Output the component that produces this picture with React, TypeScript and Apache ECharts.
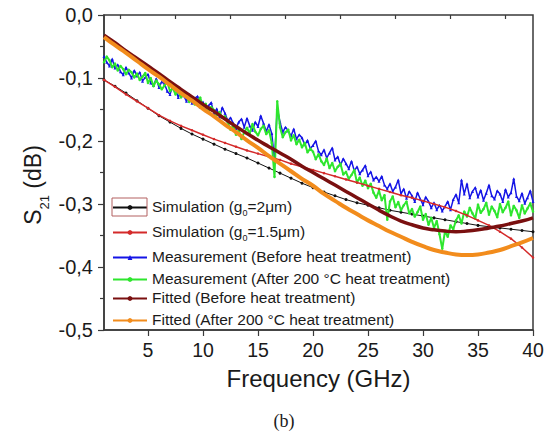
import React, { useEffect, useRef } from 'react';
import * as echarts from 'echarts';

const FONT = "'Liberation Sans', Arial, sans-serif";

// Tick values on the frequency axis
const xMajorTicks = [5, 10, 15, 20, 25, 30, 35, 40];
const xMinorTicks = [2.5, 7.5, 12.5, 17.5, 22.5, 27.5, 32.5, 37.5];

// Simulation / fit frequency grid (GHz)
const simFreq = [1, 2, 3, 4, 5, 6, 7, 8, 9, 10, 11, 12, 13, 14, 15, 16, 17, 18, 19, 20,
  21, 22, 23, 24, 25, 26, 27, 28, 29, 30, 31, 32, 33, 34, 35, 36, 37, 38, 39, 40];

// Simulation (g0 = 2 um)
const sim2um = [-0.103, -0.113, -0.124, -0.136, -0.148, -0.160, -0.170, -0.180, -0.189, -0.197,
  -0.205, -0.213, -0.220, -0.227, -0.235, -0.243, -0.251, -0.259, -0.267, -0.274,
  -0.281, -0.287, -0.293, -0.298, -0.302, -0.306, -0.310, -0.313, -0.316, -0.319,
  -0.322, -0.325, -0.328, -0.331, -0.334, -0.336, -0.338, -0.340, -0.342, -0.344];

// Simulation (g0 = 1.5 um)
const sim15um = [-0.103, -0.114, -0.126, -0.137, -0.148, -0.159, -0.168, -0.176, -0.183, -0.190,
  -0.197, -0.203, -0.209, -0.215, -0.220, -0.225, -0.230, -0.236, -0.241, -0.246,
  -0.251, -0.256, -0.261, -0.266, -0.271, -0.276, -0.281, -0.286, -0.290, -0.295,
  -0.300, -0.305, -0.311, -0.318, -0.326, -0.334, -0.344, -0.355, -0.369, -0.385];

// Fitted (before heat treatment)
const fitBefore = [-0.032, -0.044, -0.057, -0.069, -0.081, -0.093, -0.106, -0.118, -0.130, -0.142,
  -0.153, -0.165, -0.177, -0.188, -0.199, -0.209, -0.219, -0.229, -0.240, -0.250,
  -0.260, -0.270, -0.280, -0.290, -0.300, -0.310, -0.319, -0.327, -0.333, -0.338,
  -0.341, -0.343, -0.344, -0.343, -0.341, -0.338, -0.335, -0.331, -0.327, -0.322];

// Fitted (after 200 C heat treatment)
const fitAfter = [-0.035, -0.048, -0.060, -0.073, -0.086, -0.098, -0.111, -0.124, -0.136, -0.149,
  -0.161, -0.174, -0.186, -0.199, -0.211, -0.224, -0.236, -0.248, -0.260, -0.271,
  -0.284, -0.295, -0.306, -0.316, -0.326, -0.335, -0.344, -0.352, -0.360, -0.367,
  -0.373, -0.377, -0.380, -0.381, -0.380, -0.377, -0.373, -0.367, -0.361, -0.354];

// Measurement frequency grid (GHz)
const measFreq = [1, 1.25, 1.5, 1.75, 2, 2.25, 2.5, 2.75, 3, 3.25, 3.5, 3.75, 4, 4.25, 4.5, 4.75,
  5, 5.25, 5.5, 5.75, 6, 6.25, 6.5, 6.75, 7, 7.25, 7.5, 7.75, 8, 8.25, 8.5, 8.75,
  9, 9.25, 9.5, 9.75, 10, 10.25, 10.5, 10.75, 11, 11.25, 11.5, 11.75, 12, 12.25, 12.5, 12.75,
  13, 13.25, 13.5, 13.75, 14, 14.25, 14.5, 14.75, 15, 15.25, 15.5, 15.75, 16, 16.25, 16.5, 16.75,
  17, 17.25, 17.5, 17.75, 18, 18.25, 18.5, 18.75, 19, 19.25, 19.5, 19.75, 20, 20.25, 20.5, 20.75,
  21, 21.25, 21.5, 21.75, 22, 22.25, 22.5, 22.75, 23, 23.25, 23.5, 23.75, 24, 24.25, 24.5, 24.75,
  25, 25.25, 25.5, 25.75, 26, 26.25, 26.5, 26.75, 27, 27.25, 27.5, 27.75, 28, 28.25, 28.5, 28.75,
  29, 29.25, 29.5, 29.75, 30, 30.25, 30.5, 30.75, 31, 31.25, 31.5, 31.75, 32, 32.25, 32.5, 32.75,
  33, 33.25, 33.5, 33.75, 34, 34.25, 34.5, 34.75, 35, 35.25, 35.5, 35.75, 36, 36.25, 36.5, 36.75,
  37, 37.25, 37.5, 37.75, 38, 38.25, 38.5, 38.75, 39, 39.25, 39.5, 39.75, 40];

// Measurement (before heat treatment)
const measBefore = [
  -0.066, -0.075, -0.081, -0.070, -0.084, -0.079, -0.090, -0.095,
  -0.083, -0.092, -0.100, -0.088, -0.097, -0.091, -0.105, -0.099,
  -0.094, -0.108, -0.112, -0.101, -0.115, -0.106, -0.109, -0.121,
  -0.126, -0.113, -0.118, -0.131, -0.119, -0.128, -0.137, -0.126,
  -0.140, -0.132, -0.129, -0.146, -0.138, -0.150, -0.144, -0.139,
  -0.157, -0.149, -0.162, -0.147, -0.156, -0.168, -0.163, -0.172,
  -0.180, -0.170, -0.165, -0.178, -0.164, -0.176, -0.183, -0.170,
  -0.177, -0.160, -0.172, -0.185, -0.174, -0.188, -0.230, -0.148,
  -0.170, -0.186, -0.178, -0.184, -0.192, -0.181, -0.197, -0.190,
  -0.195, -0.206, -0.199, -0.212, -0.207, -0.200, -0.216, -0.222,
  -0.214, -0.227, -0.219, -0.211, -0.230, -0.225, -0.238, -0.228,
  -0.236, -0.244, -0.232, -0.247, -0.241, -0.252, -0.246, -0.239,
  -0.255, -0.249, -0.262, -0.257, -0.264, -0.256, -0.270, -0.276,
  -0.268, -0.280, -0.273, -0.262, -0.284, -0.276, -0.291, -0.280,
  -0.287, -0.296, -0.282, -0.292, -0.301, -0.289, -0.296, -0.306,
  -0.298, -0.309, -0.302, -0.311, -0.304, -0.296, -0.309, -0.293,
  -0.285, -0.298, -0.262, -0.284, -0.268, -0.290, -0.280, -0.274,
  -0.289, -0.278, -0.294, -0.283, -0.270, -0.287, -0.292, -0.279,
  -0.284, -0.296, -0.277, -0.289, -0.282, -0.260, -0.288, -0.295,
  -0.283, -0.299, -0.290, -0.279, -0.296];

// Measurement (after 200 C heat treatment)
const measAfter = [
  -0.075, -0.066, -0.072, -0.083, -0.077, -0.088, -0.081, -0.086,
  -0.094, -0.087, -0.091, -0.099, -0.093, -0.103, -0.098, -0.092,
  -0.108, -0.100, -0.113, -0.104, -0.110, -0.118, -0.112, -0.106,
  -0.121, -0.116, -0.126, -0.120, -0.131, -0.124, -0.129, -0.138,
  -0.133, -0.142, -0.137, -0.131, -0.147, -0.141, -0.153, -0.146,
  -0.151, -0.159, -0.154, -0.163, -0.161, -0.170, -0.182, -0.175,
  -0.190, -0.183, -0.197, -0.186, -0.179, -0.188, -0.173, -0.185,
  -0.191, -0.181, -0.176, -0.189, -0.183, -0.203, -0.257, -0.137,
  -0.178, -0.194, -0.186, -0.182, -0.199, -0.191, -0.205, -0.198,
  -0.210, -0.203, -0.218, -0.212, -0.217, -0.229, -0.221, -0.232,
  -0.238, -0.228, -0.243, -0.235, -0.248, -0.241, -0.236, -0.253,
  -0.249, -0.260, -0.254, -0.246, -0.266, -0.258, -0.271, -0.263,
  -0.275, -0.268, -0.282, -0.290, -0.279, -0.294, -0.286, -0.325,
  -0.296, -0.288, -0.305, -0.297, -0.310, -0.302, -0.296, -0.315,
  -0.308, -0.320, -0.313, -0.304, -0.325, -0.316, -0.333, -0.322,
  -0.338, -0.327, -0.348, -0.371, -0.343, -0.352, -0.334, -0.340,
  -0.326, -0.318, -0.331, -0.312, -0.320, -0.306, -0.315, -0.323,
  -0.301, -0.314, -0.308, -0.298, -0.317, -0.304, -0.311, -0.321,
  -0.300, -0.313, -0.306, -0.296, -0.318, -0.303, -0.310, -0.322,
  -0.302, -0.315, -0.307, -0.299, -0.312];

const seriesNames = [
  'Simulation (g0=2μm)',
  'Simulation (g0=1.5μm)',
  'Measurement (Before heat treatment)',
  'Measurement (After 200 °C heat treatment)',
  'Fitted (Before heat treatment)',
  'Fitted (After 200 °C heat treatment)',
];

const legendRich: Record<string, string> = {
  'Simulation (g0=2μm)': '{n|Simulation (g}{s|0}{n|=2μm)}',
  'Simulation (g0=1.5μm)': '{n|Simulation (g}{s|0}{n|=1.5μm)}',
  'Measurement (Before heat treatment)': '{n|Measurement (Before heat treatment)}',
  'Measurement (After 200 °C heat treatment)': '{n|Measurement (After 200 °C heat treatment)}',
  'Fitted (Before heat treatment)': '{n|Fitted (Before heat treatment)}',
  'Fitted (After 200 °C heat treatment)': '{n|Fitted (After 200 °C heat treatment)}',
};

const legendTops = [198, 223, 248, 270, 289, 311];

const zip = (xs: number[], ys: number[]) => xs.map((x, i) => [x, ys[i]]);

export default function App() {
  const ref = useRef<HTMLDivElement>(null);

  useEffect(() => {
    const chart = echarts.init(ref.current!, null, { renderer: 'svg' });
    const axisColor = '#3a3a3a';
    const textColor = '#1a1a1a';

    const legends = seriesNames.map((name, i) => ({
      data: [name],
      left: 112,
      top: legendTops[i],
      orient: 'vertical',
      itemWidth: 34,
      itemHeight: 6,
      itemGap: 0,
      padding: 0,
      selectedMode: false,
      formatter: (n: string) => legendRich[n],
      textStyle: {
        rich: {
          n: { fontFamily: FONT, fontSize: 15.5, color: textColor, verticalAlign: 'bottom', padding: [0, 0, 3, 0] },
          s: { fontFamily: FONT, fontSize: 9, color: textColor, verticalAlign: 'bottom' },
        },
      },
    }));

    const option: any = {
      animation: false,
      backgroundColor: '#ffffff',
      grid: {
        left: 104, right: 21, top: 15, bottom: 104,
        show: true, borderColor: axisColor, borderWidth: 1.5, backgroundColor: 'transparent',
      },
      xAxis: [
        {
          type: 'value', min: 1, max: 40, position: 'bottom',
          name: 'Frequency (GHz)', nameLocation: 'middle', nameGap: 36,
          nameTextStyle: { fontFamily: FONT, fontSize: 24, color: textColor },
          axisLine: { show: true, onZero: false, lineStyle: { color: axisColor, width: 1.5 } },
          axisTick: { show: true, inside: false, length: 6, customValues: xMajorTicks, lineStyle: { color: axisColor, width: 1.2 } },
          axisLabel: { customValues: xMajorTicks, fontFamily: FONT, fontSize: 19.5, color: textColor, margin: 10 },
          splitLine: { show: false },
        },
        {
          type: 'value', min: 1, max: 40, position: 'bottom',
          axisLine: { show: false },
          axisTick: { show: true, inside: false, length: 4, customValues: xMinorTicks, lineStyle: { color: axisColor, width: 1.2 } },
          axisLabel: { show: false },
          splitLine: { show: false },
        },
      ],
      yAxis: {
        type: 'value', min: -0.5, max: 0, interval: 0.1,
        axisLine: { show: true, onZero: false, lineStyle: { color: axisColor, width: 1.5 } },
        axisTick: { show: true, inside: false, length: 6, lineStyle: { color: axisColor, width: 1.2 } },
        minorTick: { show: true, splitNumber: 2, length: 4, lineStyle: { color: axisColor, width: 1.2 } },
        axisLabel: {
          fontFamily: FONT, fontSize: 20, color: textColor, margin: 11,
          formatter: (v: number) => v.toFixed(1).replace('.', ','),
        },
        splitLine: { show: false },
      },
      legend: legends,
      graphic: [
        {
          type: 'rect', z: 100,
          shape: { x: 112, y: 198, width: 35, height: 18 },
          style: { fill: 'none', stroke: '#b36060', lineWidth: 1 },
        },
        {
          type: 'text', x: 36, y: 185, rotation: Math.PI / 2, z: 100,
          style: {
            text: '{a|S}{b|21}{a| (dB)}',
            align: 'center', verticalAlign: 'middle',
            rich: {
              a: { fontFamily: FONT, fontSize: 23, fill: textColor, verticalAlign: 'bottom', padding: [0, 0, 6, 0] },
              b: { fontFamily: FONT, fontSize: 13, fill: textColor, verticalAlign: 'bottom' },
            },
          },
        },
        {
          type: 'text', x: 284, y: 421, z: 100,
          style: {
            text: '(b)', fontFamily: "'Liberation Serif', 'Times New Roman', serif", fontSize: 18,
            fill: textColor, align: 'center', verticalAlign: 'middle',
          },
        },
      ],
      series: [
        {
          name: seriesNames[0], type: 'line', data: zip(simFreq, sim2um),
          symbol: 'circle', symbolSize: 3, showSymbol: true,
          lineStyle: { color: '#111111', width: 1 }, itemStyle: { color: '#111111' }, z: 2,
        },
        {
          name: seriesNames[2], type: 'line', data: zip(measFreq, measBefore),
          symbol: 'triangle', symbolSize: 3, showSymbol: true,
          lineStyle: { color: '#1414e6', width: 1.5 }, itemStyle: { color: '#1414e6' }, z: 3,
        },
        {
          name: seriesNames[3], type: 'line', data: zip(measFreq, measAfter),
          symbol: 'circle', symbolSize: 2.5, showSymbol: true,
          lineStyle: { color: '#2ee62e', width: 2 }, itemStyle: { color: '#2ee62e' }, z: 4,
        },
        {
          name: seriesNames[1], type: 'line', data: zip(simFreq, sim15um),
          symbol: 'circle', symbolSize: 2.5, showSymbol: true,
          lineStyle: { color: '#d42a2a', width: 1.5 }, itemStyle: { color: '#d42a2a' }, z: 5,
        },
        {
          name: seriesNames[4], type: 'line', data: zip(simFreq, fitBefore), smooth: true,
          symbol: 'circle', symbolSize: 3, showSymbol: false,
          lineStyle: { color: '#7a1010', width: 3.5 }, itemStyle: { color: '#7a1010' }, z: 6,
        },
        {
          name: seriesNames[5], type: 'line', data: zip(simFreq, fitAfter), smooth: true,
          symbol: 'circle', symbolSize: 3, showSymbol: false,
          lineStyle: { color: '#f28c1c', width: 4 }, itemStyle: { color: '#f28c1c' }, z: 7,
        },
      ],
    };

    chart.setOption(option);
    return () => chart.dispose();
  }, []);

  return (
    <div
      ref={ref}
      style={{ position: 'fixed', left: 0, top: 0, width: 554, height: 434, background: '#fff' }}
    />
  );
}
